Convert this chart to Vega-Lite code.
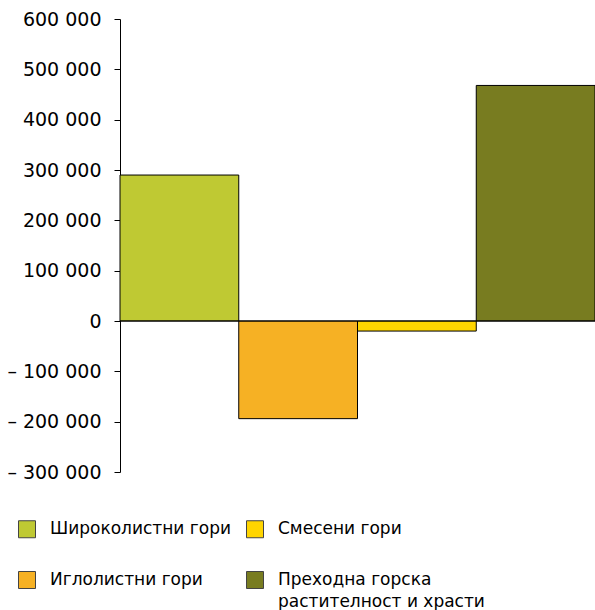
{
  "$schema": "https://vega.github.io/schema/vega-lite/v6.json",
  "width": 475,
  "height": 453,
  "autosize": {"type": "none"},
  "padding": {"left": 120, "top": 19, "right": 0, "bottom": 138},
  "background": "white",
  "config": {
    "view": {"stroke": null},
    "font": "DejaVu Sans",
    "style": {"guide-label": {"lineHeight": 22}}
  },
  "data": {
    "values": [
      {"forest": "Широколистни гори", "change": 290000, "pos": 1},
      {"forest": "Иглолистни гори", "change": -194000, "pos": 2},
      {"forest": "Смесени гори", "change": -20000, "pos": 3},
      {"forest": "Преходна горска растителност и храсти", "change": 468000, "pos": 4}
    ]
  },
  "layer": [
    {
      "mark": {"type": "bar", "stroke": "#000000", "strokeWidth": 1},
      "encoding": {
        "x": {
          "field": "forest",
          "type": "nominal",
          "sort": {"field": "pos"},
          "scale": {"paddingInner": 0, "paddingOuter": 0},
          "axis": null
        },
        "y": {
          "field": "change",
          "type": "quantitative",
          "scale": {"domain": [-300000, 600000], "nice": false, "zero": false},
          "axis": {
            "title": null,
            "grid": false,
            "values": [-300000, -200000, -100000, 0, 100000, 200000, 300000, 400000, 500000, 600000],
            "labelExpr": "(datum.value < 0 ? '– ' : '') + replace(format(abs(datum.value), ','), ',', ' ')",
            "labelFontSize": 19,
            "labelColor": "#000000",
            "labelPadding": 13,
            "tickSize": 6,
            "tickColor": "#000000",
            "domainColor": "#000000",
            "labelFont": "DejaVu Sans"
          }
        },
        "color": {
          "field": "forest",
          "type": "nominal",
          "scale": {
            "domain": ["Широколистни гори", "Иглолистни гори", "Смесени гори", "Преходна горска растителност и храсти"],
            "range": ["#BFC933", "#F6B124", "#FFD500", "#787C20"]
          },
          "legend": {
            "title": null,
            "orient": "none",
            "legendX": -102,
            "legendY": 501,
            "columns": 2,
            "columnPadding": 13,
            "rowPadding": 29,
            "symbolType": "square",
            "symbolSize": 289,
            "symbolStrokeColor": "#444444",
            "symbolStrokeWidth": 1,
            "symbolOpacity": 1,
            "labelFontSize": 17,
            "labelColor": "#000000",
            "labelOffset": 14,
            "labelLimit": 400,
            "labelFont": "DejaVu Sans",
            "labelExpr": "datum.label == 'Преходна горска растителност и храсти' ? ['Преходна горска', 'растителност и храсти'] : datum.label"
          }
        }
      }
    },
    {
      "data": {"values": [{"base": 0}]},
      "mark": {"type": "rule", "color": "#000000", "strokeWidth": 1},
      "encoding": {
        "y": {"field": "base", "type": "quantitative"}
      }
    }
  ]
}
